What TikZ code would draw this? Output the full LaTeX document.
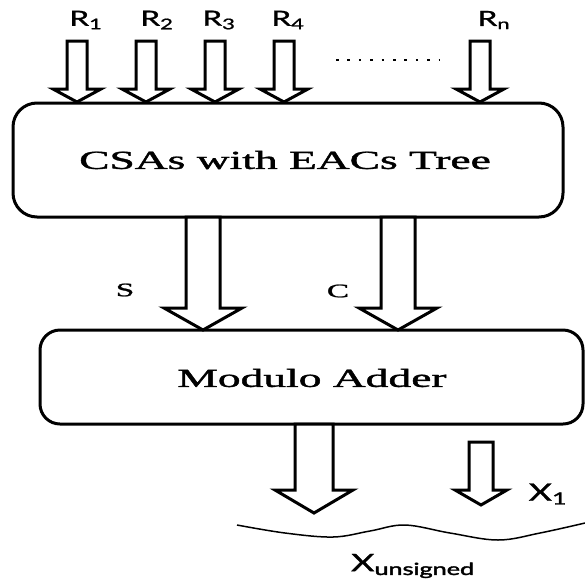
\documentclass[tikz,border=0pt]{standalone}
\usepackage{fontspec}
\setmainfont[FakeBold=1.2]{Liberation Serif}
\newfontfamily\lblfont[FakeBold=1.0]{Lato}
\newfontfamily\lblfontbold[FakeBold=2.0]{Lato}
\newcommand{\blockarrow}[6]{% x, ytop, ytip, half shaft, half head, head height
  \draw[arrowshape] (#1-#4,#2) -- (#1-#4,#3-#6) -- (#1-#5,#3-#6) -- (#1,#3)
    -- (#1+#5,#3-#6) -- (#1+#4,#3-#6) -- (#1+#4,#2) -- cycle;}
\tikzset{
  arrowshape/.style={draw=black, fill=white, line width=3pt, line join=miter},
  boxstyle/.style={draw=black, line width=3pt, rounded corners=24pt},
  serifbig/.style={font=\fontsize{26}{30}\selectfont, xscale=1.75, inner sep=0pt},
  seriflbl/.style={font=\fontsize{19}{22}\selectfont, xscale=1.75, inner sep=0pt},
  sanslbl/.style={font=\lblfont\fontsize{21}{24}\selectfont, xscale=1.5, inner sep=0pt},
}
\begin{document}
\begin{tikzpicture}[x=1pt,y=-1pt]
\useasboundingbox (0,0) rectangle (585,584);
% boxes
\draw[boxstyle] (13,103) rectangle (563,217);
\node[serifbig] (csa) at (285,160) {CSAs with EACs Tree};
% input arrows
\blockarrow{77}{41}{102}{10}{24}{13}
\blockarrow{146}{41}{102}{10}{24}{13}
\blockarrow{215}{41}{102}{10}{24}{13}
\blockarrow{284}{41}{102}{10}{24}{13}
\blockarrow{480}{41}{102}{10}{24}{13}
\node[sanslbl] (r1) at (86,20) {R\textsubscript{1}};
\node[sanslbl] (r2) at (157,20) {R\textsubscript{2}};
\node[sanslbl] (r3) at (219,20) {R\textsubscript{3}};
\node[sanslbl] (r4) at (288,20) {R\textsubscript{4}};
\node[sanslbl] (rn) at (494,20) {R\textsubscript{n}};
\coordinate (d1) at (336,60);
\coordinate (d2) at (440,60);
\draw[line width=2.6pt, dash pattern=on 2.6pt off 8.8pt, line cap=butt] (d1) -- (d2);
% middle arrows
\blockarrow{203}{217}{330}{17}{39}{22}
\blockarrow{398}{217}{330}{17}{39}{22}
\node[seriflbl] (s) at (125,290) {S};
\node[seriflbl] (c) at (338,291) {C};
% modulo box
\draw[boxstyle, rounded corners=20pt] (40,330) rectangle (583,424);
\node[serifbig] (mod) at (312,378) {Modulo Adder};
% output arrows
\blockarrow{314}{424}{513}{19}{39}{23}
\blockarrow{481}{442}{505}{12}{26}{15}
\node[sanslbl, font=\lblfont\fontsize{24}{26}\selectfont] (x1) at (548,494) {X\textsubscript{1}};
\draw[line width=1.5pt] plot[smooth, tension=0.6] coordinates {(237,525) (285,533) (333,537) (370,531) (405,525) (450,533) (498,540) (540,533) (585,523)};
\node[sanslbl, font=\lblfont\fontsize{24}{26}\selectfont] (xu) at (413,566) {X\textsubscript{\lblfontbold unsigned}};
\end{tikzpicture}
\end{document}
